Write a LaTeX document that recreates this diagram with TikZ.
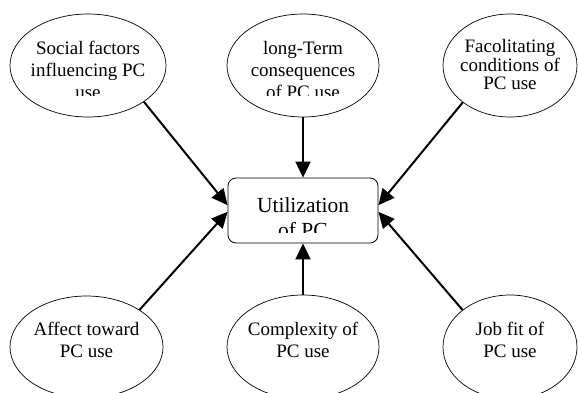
\documentclass[tikz,border=0pt]{standalone}
\usepackage{fontspec}
\setmainfont{Liberation Serif}
\usetikzlibrary{shapes.geometric,arrows.meta}
\begin{document}
\begin{tikzpicture}[x=1pt,y=-1pt,
  ell/.style={draw, ellipse, inner sep=0pt, line width=0.7pt},
  txt/.style={align=center, inner sep=0pt, font=\fontsize{19}{22}\selectfont},
  arr/.style={line width=2pt, -{Triangle[length=16pt,width=15pt]}},
  ]
\useasboundingbox (0,0) rectangle (578,392);
\clip (0,0) rectangle (578,392);
\node[ell, minimum width=156pt, minimum height=103pt] (e1) at (88,65.5) {};
\node[ell, minimum width=152pt, minimum height=103pt] (e2) at (303,65.5) {};
\node[ell, minimum width=134pt, minimum height=103pt] (e3) at (510,65.5) {};
\node[ell, minimum width=153pt, minimum height=102pt] (e4) at (86.5,347) {};
\node[ell, minimum width=152pt, minimum height=104pt] (e5) at (303,347) {};
\node[ell, minimum width=134pt, minimum height=104pt] (e6) at (510,347) {};
\node[draw, rounded corners=8pt, minimum width=150pt, minimum height=65pt, line width=0.8pt] (u) at (303,210.5) {};

\begin{scope}
\clip (0,0) rectangle (578,95);
\node[txt, anchor=base] (t1) at (88,98) {Social factors\\influencing PC\\use};
\node[txt, anchor=base] (t2) at (303,98.5) {long-Term\\consequences\\of PC use};
\end{scope}
\node[txt, anchor=base, font=\fontsize{19}{18.3}\selectfont] (t3) at (510,89.5) {Facolitating\\conditions of\\PC use};
\node[txt, anchor=base] (t4) at (86.5,357) {Affect toward\\PC use};
\node[txt, anchor=base] (t5) at (303,357) {Complexity of\\PC use};
\node[txt, anchor=base] (t6) at (510,357) {Job fit of\\PC use};
\begin{scope}
\clip (228,178) rectangle (378,232);
\node[txt, anchor=base, font=\fontsize{21.5}{25.5}\selectfont] (tu) at (303,237.5) {Utilization\\of PC};
\end{scope}

\draw[arr] (e1.-33.6) -- (u.176.5);
\draw[arr] (e2.south) -- (u.north);
\draw[arr] (e3.-142) -- (u.4.2);
\draw[arr] (e4.35) -- (u.181.9);
\draw[arr] (e5.north) -- (u.south);
\draw[arr] (e6.142) -- (u.-1.9);
\end{tikzpicture}
\end{document}
